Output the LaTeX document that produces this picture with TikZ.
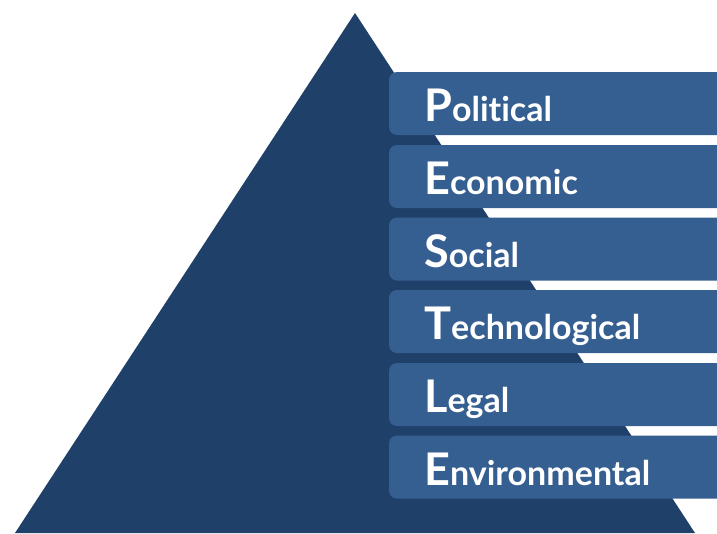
\documentclass[tikz,border=0pt]{standalone}
\usepackage{fontspec}
\setmainfont{Lato}[UprightFont=* Bold, Ligatures={NoCommon,NoDiscretionary,NoRare}]
\definecolor{tri}{HTML}{1F4068}
\definecolor{barc}{HTML}{365F91}
\newcommand{\BigLetter}[1]{{\fontsize{45}{45}\selectfont #1}}
\tikzset{
  bar/.style={fill=barc, rounded corners=8pt},
  lbl/.style={anchor=base west, inner sep=0pt, text=white, font=\fontsize{34}{34}\selectfont}
}
\begin{document}
\begin{tikzpicture}[x=1pt,y=-1pt]
\useasboundingbox (0,0) rectangle (717,533);
\clip (0,0) rectangle (717,533);
\fill[tri] (355,13) -- (695,533) -- (15,533) -- cycle;
\foreach \t/\nm/\first/\rest in {72/p/P/olitical,145/e/E/conomic,217.5/s/S/ocial,290/t/T/echnological,363/l/L/egal,435.5/n/E/nvironmental}{
  \fill[bar] (730,\t) -- (389,\t) -- (389,\t+63) -- (730,\t+63) -- cycle;
  \node[lbl] (\nm) at (424,\t+49.5) {\BigLetter{\first}\rest};
}
\end{tikzpicture}
\end{document}
